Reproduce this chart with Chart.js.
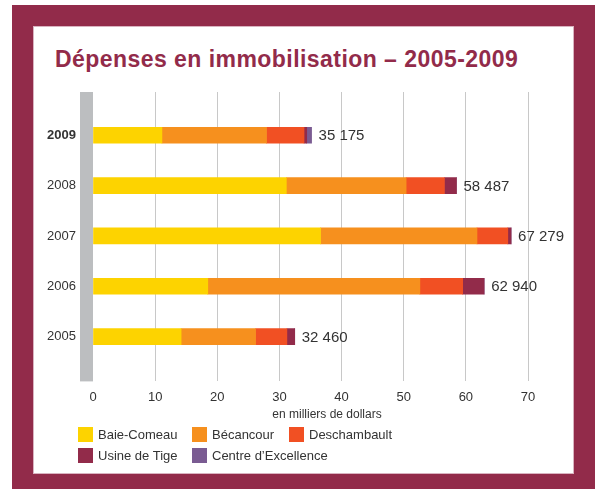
<!DOCTYPE html>
<html lang="fr">
<head>
<meta charset="utf-8">
<script src="https://cdn.jsdelivr.net/npm/chart.js@4/dist/chart.umd.min.js"></script>
<style>
    body { margin: 0; background: #fff; font-family: "Liberation Sans", Arial, sans-serif; }
    #frame { position: absolute; left: 12px; top: 5px; width: 583px; height: 484px; background: #922b4a; }
    #panel { position: absolute; left: 33px; top: 26px; width: 539px; height: 446px; background: #fff; border: 1px solid #d9b3c0; }
    #title { position: absolute; left: 55px; top: 48px; margin: 0; font-size: 23px; line-height: 23px; letter-spacing: 0.45px; font-weight: bold; color: #922b4a; white-space: nowrap; }
    #chart { position: absolute; left: 33px; top: 26px; }
    #unit { position: absolute; left: 227px; width: 200px; top: 407px; text-align: center; font-size: 12px; color: #333; }
    #legend { position: absolute; left: 78px; top: 427px; width: 400px; font-size: 13px; color: #333; }
    .item { position: absolute; height: 15px; line-height: 15px; white-space: nowrap; }
    .item span { display: inline-block; width: 15px; height: 15px; vertical-align: top; margin-right: 5px; }
</style>
</head>
<body>
<div id="frame"></div>
<div id="panel"></div>
<h1 id="title">Dépenses en immobilisation – 2005-2009</h1>
<canvas id="chart" width="541" height="389"></canvas>
<div id="unit">en milliers de dollars</div>
<div id="legend"></div>
<script>
// years, top to bottom
const years = ["2009", "2008", "2007", "2006", "2005"];

// spending per plant, millions of dollars
const baieComeau = [11.09, 31.11, 36.62, 18.47, 14.18];
const becancour = [16.83, 19.28, 25.17, 34.13, 11.98];
const deschambault = [6.04, 6.16, 4.96, 6.89, 5.04];
const usineTige = [0.43, 1.937, 0.529, 3.45, 1.26];
const centreExcellence = [0.785, 0, 0, 0, 0];

const xTicks = [0, 10, 20, 30, 40, 50, 60, 70];

const series = [
    { label: "Baie-Comeau", data: baieComeau, color: "#fdd300" },
    { label: "Bécancour", data: becancour, color: "#f6901e" },
    { label: "Deschambault", data: deschambault, color: "#f15023" },
    { label: "Usine de Tige", data: usineTige, color: "#922b4a" },
    { label: "Centre d’Excellence", data: centreExcellence, color: "#7a5b92" },
];

const fontFamily = "'Liberation Sans', Arial, sans-serif";

// gray band along the left of the plot
const bandPlugin = {
    id: "band",
    beforeDatasetsDraw(chart) {
        const a = chart.chartArea;
        const ctx = chart.ctx;
        ctx.save();
        ctx.fillStyle = "#bcbec0";
        ctx.fillRect(a.left - 13, a.top, 13, a.bottom - a.top);
        ctx.restore();
    },
};

// total written at the end of each bar
const totalsPlugin = {
    id: "totals",
    afterDatasetsDraw(chart) {
        const ctx = chart.ctx;
        const last = chart.getDatasetMeta(series.length - 1);
        ctx.save();
        ctx.font = "15px " + fontFamily;
        ctx.fillStyle = "#333";
        ctx.textAlign = "left";
        ctx.textBaseline = "middle";
        for (let i = 0; i < years.length; i++) {
            let sum = 0;
            series.forEach((s) => (sum += s.data[i]));
            const bar = last.data[i];
            const text = Math.round(sum * 1000).toLocaleString("fr-CA").replace(/\s/g, " ");
            ctx.fillText(text, bar.x + 7, bar.y + 1);
        }
        ctx.restore();
    },
};

const datasets = series.map((s) => ({
    label: s.label,
    data: s.data.map((v, i) => ({ x: v, y: i })),
    backgroundColor: s.color,
    borderWidth: 0,
    barThickness: 16,
}));

new Chart(document.getElementById("chart"), {
    type: "bar",
    data: { datasets: datasets },
    options: {
        indexAxis: "y",
        responsive: false,
        animation: false,
        layout: { padding: { left: 0, right: 46, top: 66, bottom: 2 } },
        scales: {
            x: {
                type: "linear",
                stacked: true,
                min: 0,
                max: 70,
                afterBuildTicks: (scale) => {
                    scale.ticks = xTicks.map((v) => ({ value: v }));
                },
                grid: {
                    color: (c) => (c.tick && c.tick.value === 0 ? "rgba(0,0,0,0)" : "#c8c8c8"),
                    drawTicks: false,
                },
                border: { display: false },
                ticks: { padding: 8, color: "#333", font: { family: fontFamily, size: 13 } },
            },
            y: {
                type: "linear",
                stacked: true,
                reverse: true,
                offset: false,
                bounds: "data",
                min: -0.86,
                max: 4.89,
                afterBuildTicks: (scale) => {
                    scale.ticks = years.map((_, i) => ({ value: i }));
                },
                afterFit: (scale) => {
                    scale.width = 60;
                },
                grid: { display: false, drawTicks: false, offset: false },
                border: { display: false },
                ticks: {
                    padding: 17,
                    color: "#333",
                    callback: (v) => years[v],
                    font: (c) => ({
                        family: fontFamily,
                        size: 13,
                        weight: c.tick && c.tick.value === 0 ? "bold" : "normal",
                    }),
                },
            },
        },
        plugins: {
            legend: { display: false },
            tooltip: { enabled: false },
        },
    },
    plugins: [bandPlugin, totalsPlugin],
});

// legend in three columns
const columns = [0, 114, 211];
const legend = document.getElementById("legend");
series.forEach((s, i) => {
    const item = document.createElement("div");
    item.className = "item";
    item.style.left = columns[i % 3] + "px";
    item.style.top = Math.floor(i / 3) * 20.5 + "px";
    item.innerHTML = '<span style="background:' + s.color + '"></span>' + s.label;
    legend.appendChild(item);
});
</script>
</body>
</html>
